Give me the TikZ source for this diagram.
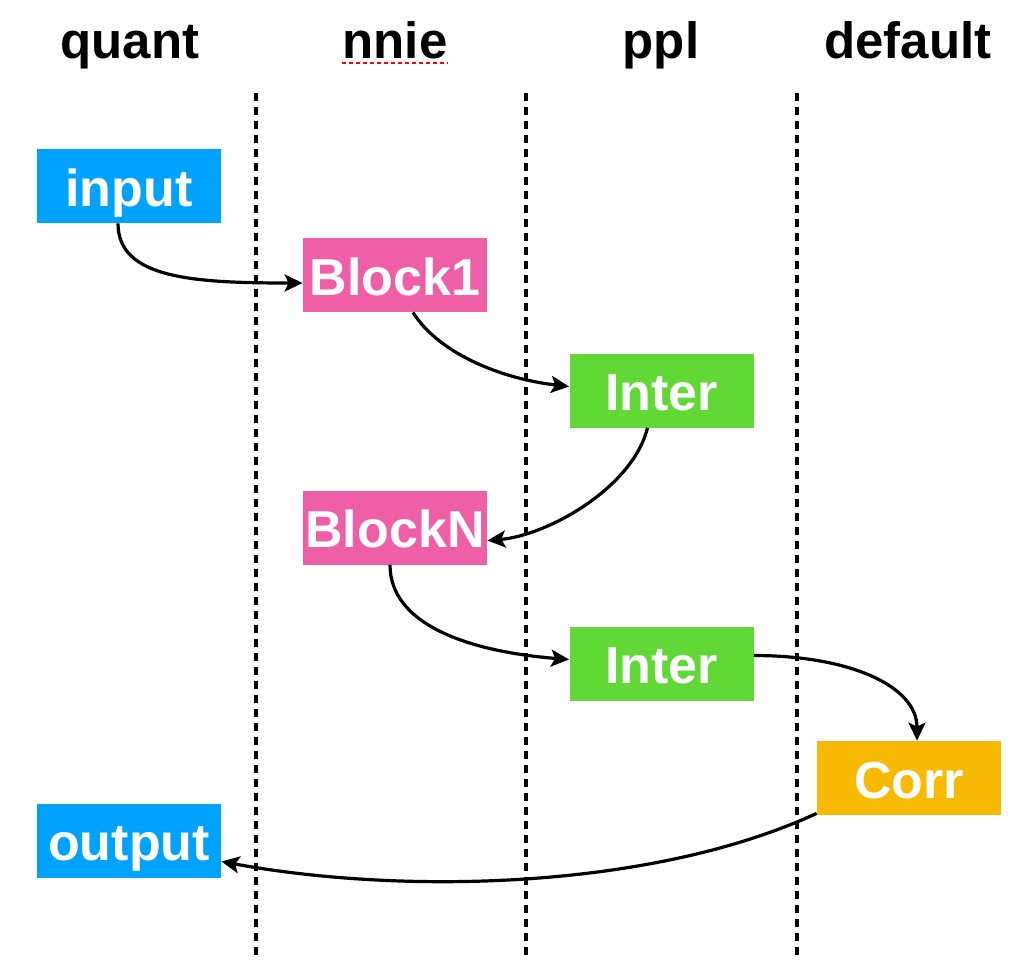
\documentclass[tikz,border=0pt]{standalone}
\usepackage{fontspec}
\setmainfont{Liberation Sans}
\usetikzlibrary{arrows.meta}
\definecolor{kblue}{HTML}{00A2FF}
\definecolor{kpink}{HTML}{EF5FA7}
\definecolor{kgreen}{HTML}{61D836}
\definecolor{korange}{HTML}{F8BA00}
\begin{document}
\begin{tikzpicture}[x=0.5pt,y=-0.5pt,
  hdr/.style={anchor=base, font=\fontsize{25.5}{30}\selectfont\bfseries, text=black, inner sep=0},
  blk/.style={minimum width=92pt, minimum height=37pt, inner sep=0, text height=28.5pt, text depth=8.5pt, text=white,
    font=\fontsize{26}{30}\selectfont\bfseries},
  lane/.style={line width=2pt, dash pattern=on 4pt off 3pt},
  conn/.style={line width=1.6pt, -{Stealth[length=9pt,width=8.5pt,inset=2pt]}}]
\useasboundingbox (0,0) rectangle (1010,959);
% lanes
\coordinate (l1t) at (256,93); \coordinate (l1b) at (256,959);
\coordinate (l2t) at (526,93); \coordinate (l2b) at (526,959);
\coordinate (l3t) at (797,93); \coordinate (l3b) at (797,959);
\draw[lane] (l1t) -- (l1b);
\draw[lane] (l2t) -- (l2b);
\draw[lane] (l3t) -- (l3b);
% headers
\node[hdr] (hq) at (130,58) {quant};
\node[hdr] (hn) at (395,58) {nnie};
\node[hdr] (hp) at (661,58) {ppl};
\node[hdr] (hd) at (908,58) {default};
\draw[red, line width=1.3pt, dash pattern=on 2pt off 1.5pt] ([yshift=-2.5pt]hn.base west) -- ([yshift=-2.5pt]hn.base east);
% nodes
\node[blk, fill=kblue] (input) at (129,186) {input};
\node[blk, fill=kblue] (output) at (129,840.5) {output};
\node[blk, fill=kpink] (b1) at (395,275) {Block1};
\node[blk, fill=kpink] (bn) at (395,527.5) {BlockN};
\node[blk, fill=kgreen] (i1) at (661.5,390.5) {Inter};
\node[blk, fill=kgreen] (i2) at (661.5,663.5) {Inter};
\node[blk, fill=korange] (corr) at (909,778) {Corr};
% connectors
\draw[conn] ([xshift=-5.5pt]input.south) .. controls +(0,55) and +(-110,0) .. ([yshift=-4pt]b1.west);
\draw[conn] ([xshift=9pt]b1.south) .. controls +(25,40) and +(-70,-8) .. ([yshift=2pt]i1.west);
\draw[conn] ([xshift=-7pt]i1.south) .. controls +(-15,60) and +(60,-5) .. ([yshift=-6.5pt]bn.east);
\draw[conn] ([xshift=-2.5pt]bn.south) .. controls +(0,60) and +(-100,-8) .. ([yshift=2pt]i2.west);
\draw[conn] ([yshift=4pt]i2.east) .. controls +(95,0) and +(0,-55) .. ([xshift=4pt]corr.north);
\draw[conn] ([yshift=1pt]corr.south west) .. controls +(-167,77) and +(179,33) .. ([yshift=-10.5pt]output.east);
\end{tikzpicture}
\end{document}
